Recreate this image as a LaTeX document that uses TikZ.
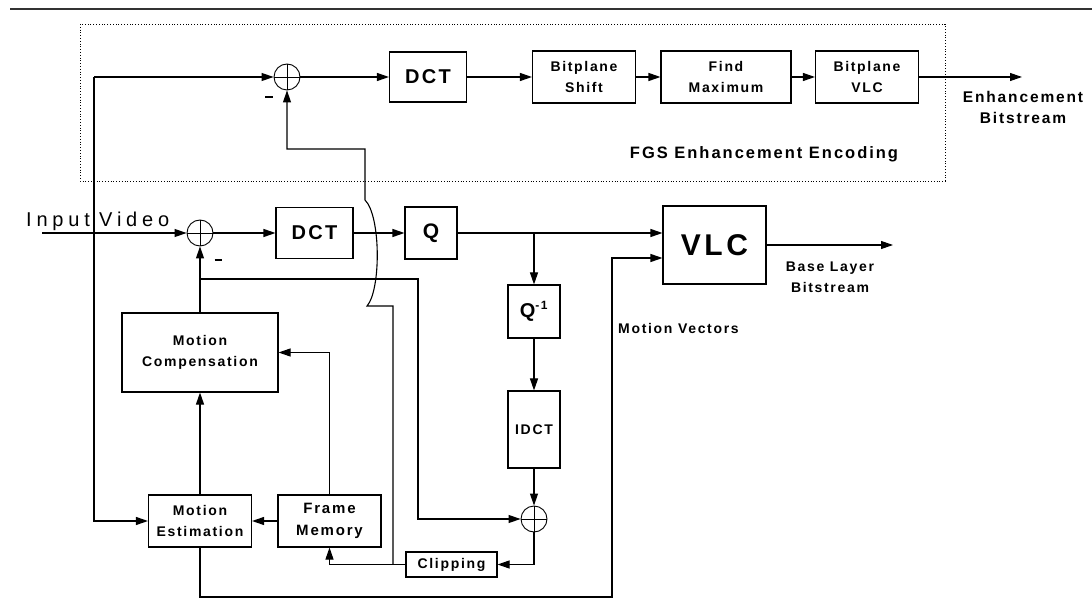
\documentclass[tikz,border=0pt]{standalone}
\usepackage{fontspec}
\setmainfont{Liberation Sans}
\newfontfamily\spfont{Liberation Sans}[LetterSpace=12]
\newfontfamily\wdfont{Liberation Sans}[LetterSpace=24]
\usetikzlibrary{arrows.meta}
\newcommand{\fsz}[2]{\fontsize{#1}{#2}\selectfont}
\newcommand{\mns}{\rule{8pt}{1.4pt}}
\tikzset{
  box/.style={draw,line width=1.1pt,inner sep=0pt,align=center,font=\spfont\bfseries\fsz{14}{21}},
  big/.style={font=\spfont\bfseries\fsz{20}{22}},
  sumc/.style={draw,circle,line width=0.9pt,minimum size=26pt,inner sep=0pt,
    path picture={\draw[line width=0.9pt] (path picture bounding box.north)--(path picture bounding box.south) (path picture bounding box.west)--(path picture bounding box.east);}},
  arr/.style={-{Triangle[length=12pt,width=8pt]},line width=1.1pt},
  lbl/.style={font=\spfont\bfseries\fsz{14}{21},align=center,inner sep=0pt},
}

\begin{document}
\begin{tikzpicture}[x=1pt,y=-1pt]
 \useasboundingbox (0,0) rectangle (1092,601);
 \draw[line width=1.4pt,black!80] (10,9) -- (1092,9);
 \draw[dotted,line width=0.8pt] (80,24) rectangle (945,181);
 % enhancement layer
 \node[sumc] (se) at (287,77){}; \node[box,big,minimum width=77pt,minimum height=50pt] (dcte) at (428,77){DCT};
 \node[box,minimum width=103pt,minimum height=52pt] (bps) at (584,77){Bitplane\\Shift};
 \node[box,minimum width=130pt,minimum height=52pt] (fmax) at (726,77){Find\\Maximum};
 \node[box,minimum width=103pt,minimum height=52pt] (bpv) at (867,77){Bitplane\\VLC};
 \coordinate (eout) at (1022,77);
 \node[lbl,font=\spfont\bfseries\fsz{15.5}{21}] at (1023,107){Enhancement\\Bitstream};
 \node[lbl,font=\spfont\bfseries\fsz{16.5}{20},anchor=base] at (764,159){FGS Enhancement Encoding};
 \node[lbl] (m1) at (269,97){\mns};
 \draw[arr](se)--(dcte); \draw[arr](dcte)--(bps); \draw[arr](bps)--(fmax); \draw[arr](fmax)--(bpv); \draw[arr](bpv)--(eout);
 % base layer
 \coordinate (in) at (42,233);
 \node[font=\wdfont\fsz{20}{22},inner sep=0pt,anchor=base west] (iv) at (26,227){Input\kern-1pt\ Video};
 \node[sumc] (sb) at (200,233){}; \node[lbl] (m2) at (218,260){\rule{7pt}{1.4pt}};
 \node[box,big,minimum width=77pt,minimum height=51pt] (dctb) at (314.5,233){DCT};
 \node[box,big,font=\spfont\bfseries\fsz{21}{22},minimum width=52pt,minimum height=52pt] (q) at (431,233){Q};
 \node[box,font=\spfont\bfseries\fsz{30}{32},minimum width=103pt,minimum height=78pt] (vlc) at (714.5,245){VLC};
 \node[box,font=\spfont\bfseries\fsz{20}{22},minimum width=52pt,minimum height=53pt] (qi) at (534,311.5){Q\textsuperscript{\fsz{12}{12}-1}};
 \node[box,minimum width=52pt,minimum height=77pt] (idct) at (534,429.5){IDCT};
 \node[sumc] (sl) at (534,519){};
 \node[box,minimum width=156pt,minimum height=79pt] (mc) at (200,352.5){Motion\\Compensation};
 \node[box,minimum width=103pt,minimum height=52pt] (me) at (200,521){Motion\\Estimation};
 \node[box,font=\spfont\bfseries\fsz{15}{22},minimum width=103pt,minimum height=52pt] (fm) at (329.5,521){Frame\\Memory};
 \node[box,minimum width=91pt,minimum height=25pt] (clip) at (451.5,564.5){Clipping};
 \node[lbl] at (830,277){Base Layer\\Bitstream};
 \node[lbl,anchor=base west] at (618,334){Motion Vectors};
 \coordinate (bout) at (893,245);
 \draw[arr](in)--(sb); \draw[arr](sb)--(dctb); \draw[arr](dctb)--(q); \draw[arr](q.east)--(q.east -| vlc.west); \draw[arr](vlc.east)--(bout);
 \draw[arr](q.east -| qi.north)--(qi.north); \draw[arr](qi)--(idct); \draw[arr](idct)--(sl);
 \draw[arr](mc)--(sb);
 \coordinate (mcb) at (200,279); \coordinate (rt) at (418,279); \draw[arr](mcb)--(rt)|-(sl.west);
 \draw[arr](sl.south)|-(clip.east); \draw[arr](clip.west)-|(fm.south);
 \draw[arr](fm.north)|-(mc.east); \draw[arr](fm)--(me); \draw[arr](me)--(mc);
 \coordinate (mvb) at (612,597); \coordinate (mvt) at (612,258);
 \draw[arr](me.south)|-(mvb)--(mvt)--(mvt -| vlc.west);
 \coordinate (lt) at (94,77); \draw[arr](lt)--(se); \draw[arr](lt)|-(me.west);
 % reconstructed frame back to the enhancement sum
 \coordinate (jn) at (393,564.5); \coordinate (hb) at (367,306); \coordinate (ht) at (365,200);
 \draw[arr](jn)--(jn |- hb)--(hb) .. controls (381,290) and (381,216) .. (ht)--(365,149)-|(se.south);
\end{tikzpicture}
\end{document}
